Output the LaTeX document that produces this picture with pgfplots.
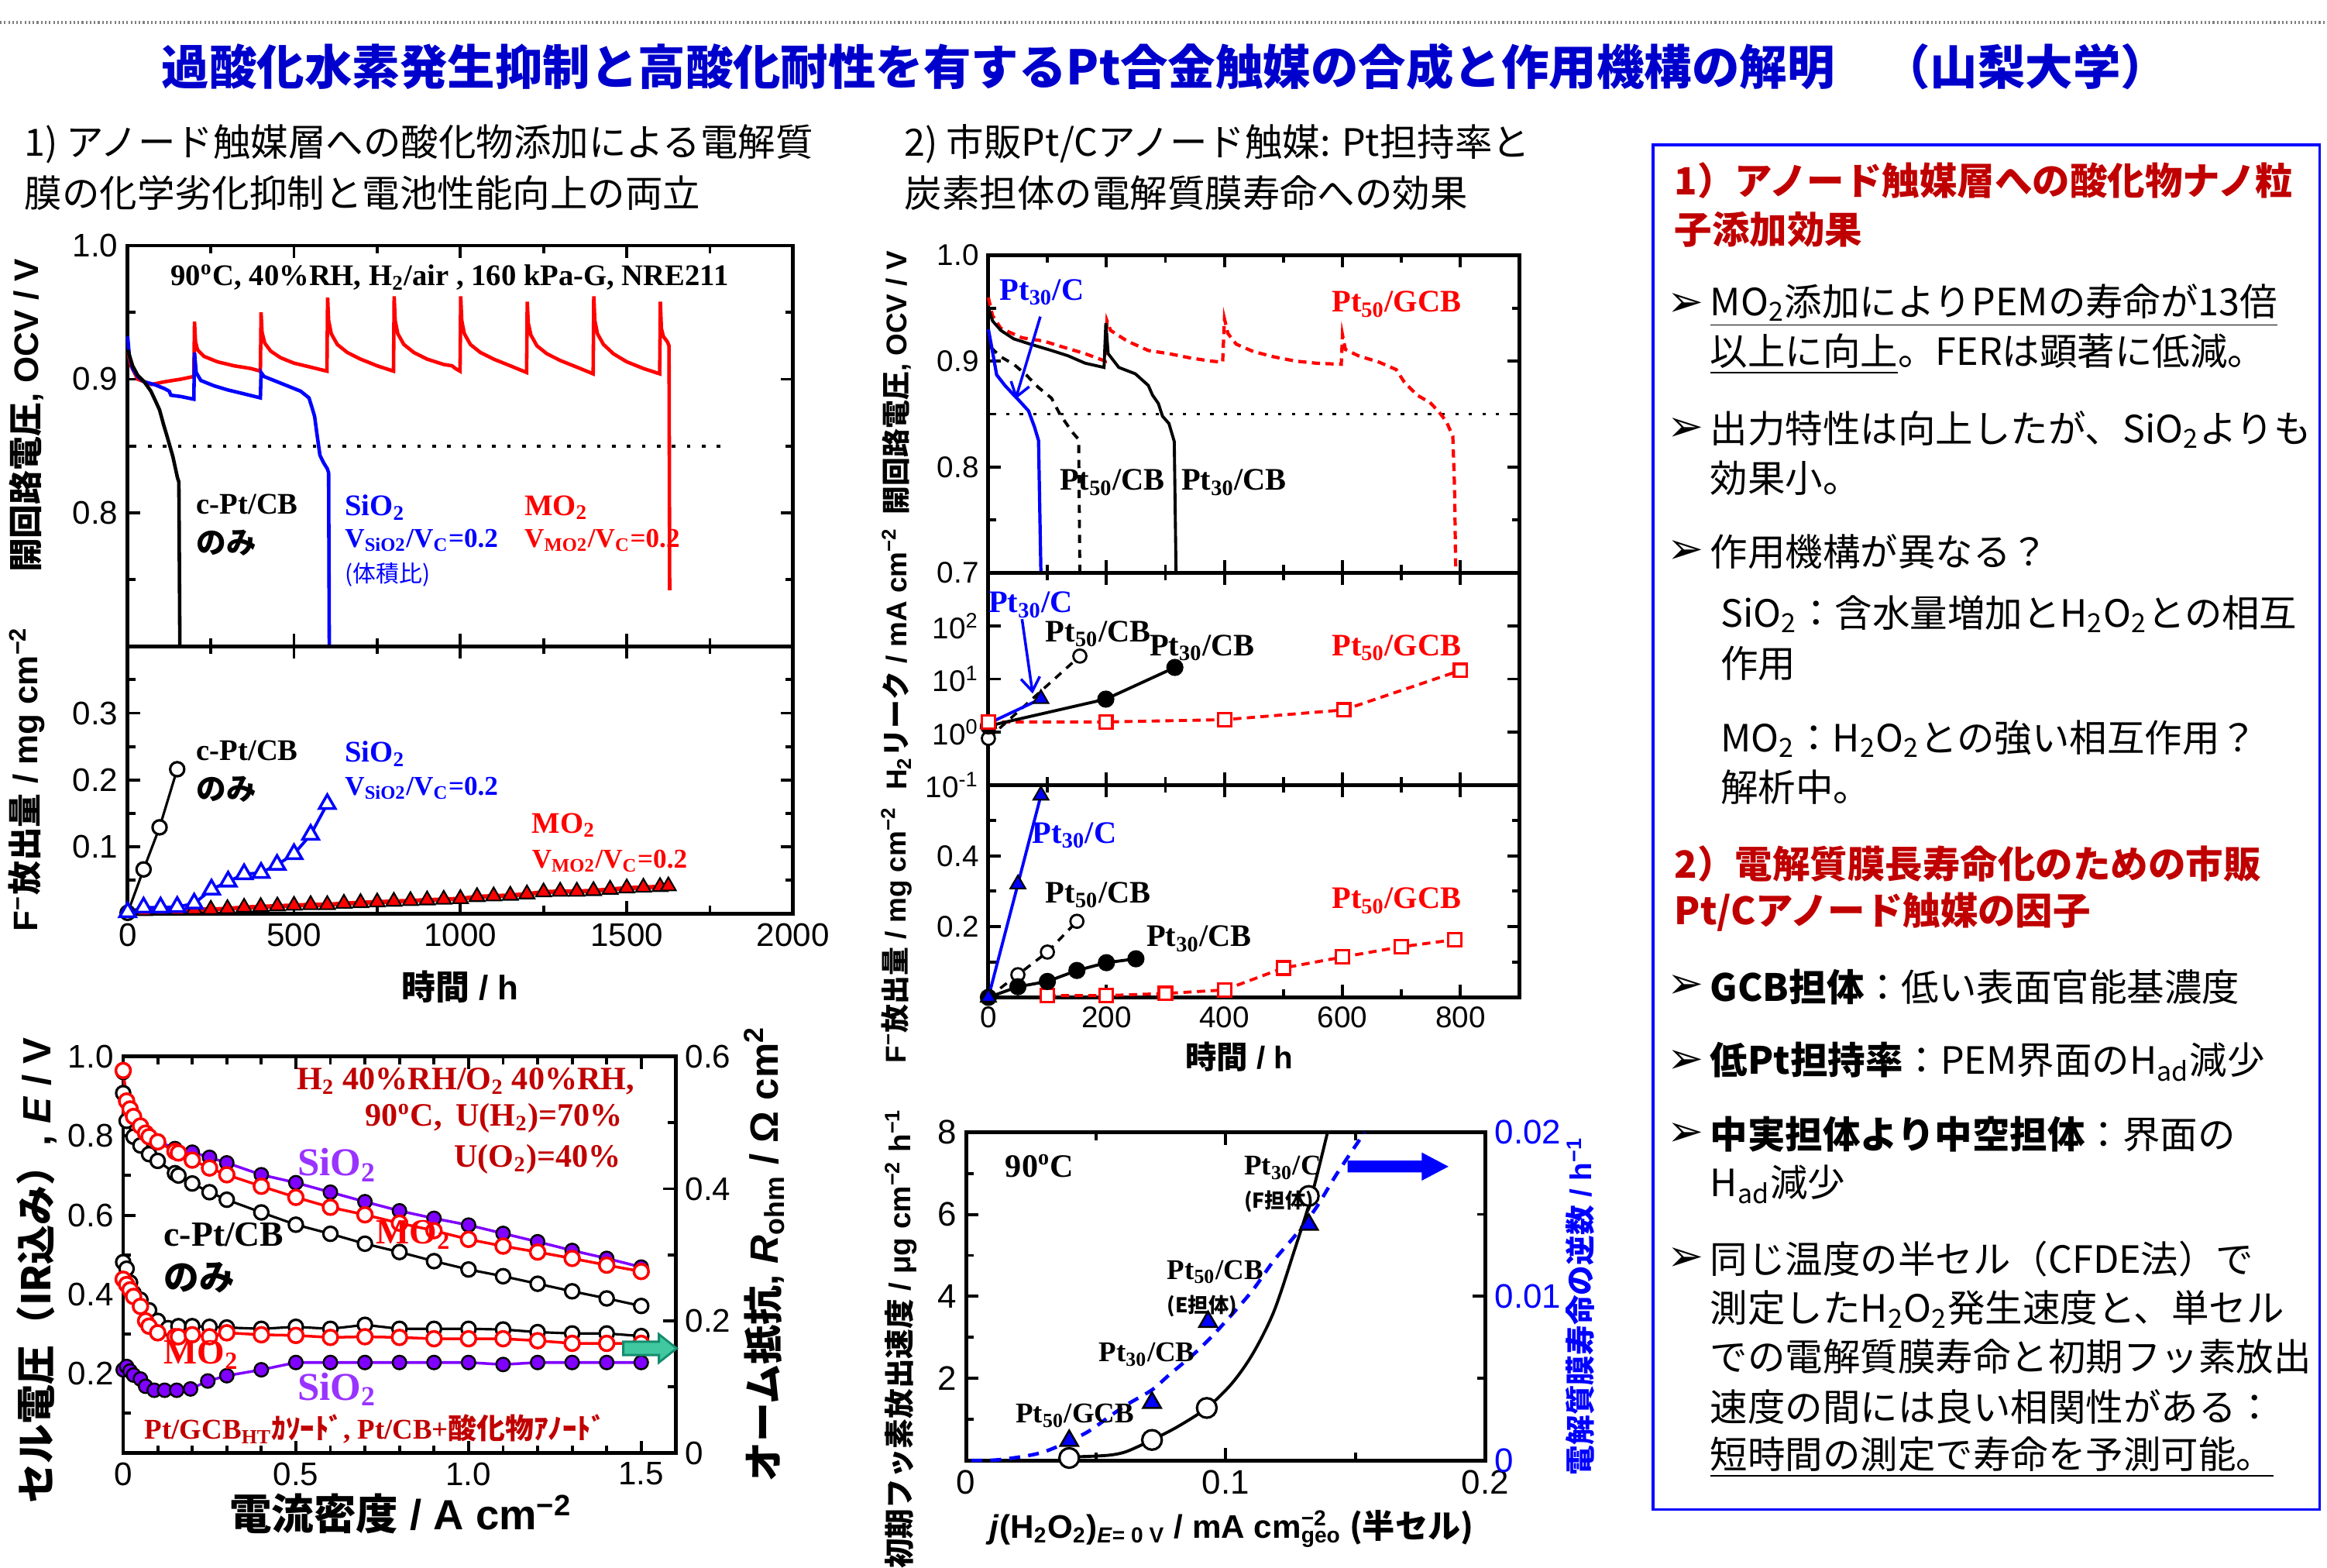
\documentclass[border=0pt]{standalone}
\usepackage{pgfplots}
\pgfplotsset{compat=1.18}
\usetikzlibrary{arrows.meta}
\usepackage{fontspec}
\setmainfont{Liberation Serif}
\newfontfamily\jp{Noto Sans CJK JP}
\newfontfamily\ar{Liberation Sans}
\newfontfamily\dv{DejaVu Sans}
\newcommand\fs[1]{\fontsize{#1}{#1}\selectfont}
\definecolor{tblue}{RGB}{0,0,204}
\definecolor{dred}{RGB}{192,0,0}
\definecolor{purp}{RGB}{128,0,255}
\definecolor{lpurp}{RGB}{153,51,255}
\definecolor{mint}{RGB}{64,200,160}
\definecolor{mintd}{RGB}{20,140,110}
\pgfplotsset{
  base/.style={scale only axis, anchor=south west, clip=false,
    axis line style={line width=1.4pt},
    tick align=inside, major tick length=0.16cm, minor tick length=0.1cm,
    tick style={line width=1.1pt, black},
    xtick pos=both, ytick pos=both, xticklabel pos=lower, yticklabel pos=left,
    scaled ticks=false},
}
\begin{document}
\begin{tikzpicture}[x=0.019158cm, y=0.019167cm]
\path[use as bounding box] (0,0) rectangle (1568,1056);
\coordinate (A1) at (86,620.5);
\coordinate (A2) at (86,440.5);
\coordinate (A3) at (83,77);
\coordinate (B1) at (666,670);
\coordinate (B2) at (666,527);
\coordinate (B3) at (666,384);
\coordinate (C1) at (651,72);

% ---------- header ----------
\draw[gray, line width=1.2pt, dash pattern=on 0.6pt off 0.9pt] (0,1041) -- (1568,1041);
\node[font=\jp\bfseries\fs{17.5}, text=tblue] at (785,1011) {過酸化水素発生抑制と高酸化耐性を有するPt合金触媒の合成と作用機構の解明　（山梨大学）};
\node[anchor=west, font=\jp\fs{13.8}] at (10,959) {1) アノード触媒層への酸化物添加による電解質};
\node[anchor=west, font=\jp\fs{13.8}] at (10,926) {膜の化学劣化抑制と電池性能向上の両立};
\node[anchor=west, font=\jp\fs{13.8}] at (603,959) {2) 市販Pt/Cアノード触媒: Pt担持率と};
\node[anchor=west, font=\jp\fs{13.8}] at (603,926) {炭素担体の電解質膜寿命への効果};

% ---------- Panel 1 top: OCV ----------
\begin{axis}[base, at={(A1)}, width=8.594cm, height=5.175cm,
  xmin=0, xmax=2000, ymin=0.7, ymax=1.0,
  xtick={0,500,1000,1500,2000}, xticklabels={}, minor xtick={250,750,1250,1750},
  ytick={0.8,0.9,1.0}, yticklabels={0.8,0.9,1.0}, minor ytick={0.75,0.85,0.95},
  tick label style={font=\ar\fs{12}}]
\addplot[black, line width=1.2pt, dash pattern=on 1.3pt off 4.2pt] coordinates {(16,0.85) (1804,0.85)};
\addplot[red, line width=1.3pt] coordinates {
(0,0.922)(10,0.910)(30,0.900)(72,0.896)(110,0.898)(160,0.900)(199,0.902)
(201,0.943)(204,0.928)(210,0.922)(230,0.917)(270,0.913)(320,0.910)(370,0.908)(399,0.906)
(401,0.950)(404,0.935)(412,0.927)(430,0.921)(460,0.916)(500,0.912)(550,0.909)(599,0.906)
(601,0.961)(604,0.944)(612,0.934)(630,0.926)(660,0.920)(700,0.915)(750,0.910)(799,0.906)
(801,0.962)(804,0.944)(812,0.934)(830,0.926)(860,0.920)(900,0.915)(950,0.911)(975,0.910)(985,0.908)(999,0.906)
(1001,0.962)(1004,0.944)(1012,0.934)(1030,0.926)(1060,0.920)(1100,0.915)(1150,0.910)(1199,0.905)
(1201,0.958)(1204,0.942)(1212,0.933)(1230,0.925)(1260,0.919)(1300,0.914)(1350,0.909)(1399,0.904)
(1401,0.962)(1404,0.944)(1412,0.934)(1430,0.926)(1460,0.919)(1500,0.913)(1550,0.908)(1599,0.904)
(1601,0.958)(1604,0.938)(1610,0.932)(1622,0.928)(1627,0.925)(1629,0.742)};
\addplot[blue, line width=1.3pt] coordinates {
(0,0.932)(5,0.918)(15,0.908)(30,0.902)(50,0.898)(80,0.896)(110,0.893)(125,0.891)(130,0.888)(160,0.887)(199,0.885)
(201,0.920)(206,0.905)(220,0.899)(260,0.895)(300,0.892)(350,0.889)(399,0.886)
(401,0.905)(410,0.902)(440,0.899)(480,0.895)(520,0.891)(545,0.886)(555,0.878)(562,0.872)(570,0.857)(578,0.843)(590,0.837)(600,0.833)(604,0.830)(606,0.700)};
\addplot[black, line width=1.3pt] coordinates {
(0,0.922)(15,0.910)(30,0.903)(50,0.898)(70,0.891)(85,0.883)(96,0.877)(108,0.866)(120,0.856)(136,0.842)(150,0.826)(154,0.823)(157,0.700)};
\end{axis}

% ---------- Panel 1 bottom: F- ----------
\begin{axis}[base, at={(A2)}, width=8.594cm, height=3.450cm,
  xmin=0, xmax=2000, ymin=0, ymax=0.4,
  xtick={0,500,1000,1500,2000}, xticklabels={0,500,1000,1500,2000}, minor xtick={250,750,1250,1750},
  ytick={0.1,0.2,0.3}, yticklabels={0.1,0.2,0.3}, minor ytick={0.05,0.15,0.25,0.35},
  tick label style={font=\ar\fs{12}}]
\addplot[red, line width=1.6pt, mark=triangle*, mark size=3.2pt, mark options={fill=red, draw=black, line width=0.6pt}] coordinates {
(50,0.004)(100,0.005)(150,0.005)(200,0.006)(250,0.006)(300,0.007)(350,0.009)(400,0.010)(450,0.011)(500,0.012)
(550,0.013)(600,0.013)(650,0.015)(700,0.016)(750,0.017)(800,0.018)(850,0.019)(900,0.020)(950,0.021)(1000,0.022)
(1050,0.025)(1100,0.026)(1150,0.027)(1200,0.029)(1250,0.032)(1300,0.033)(1350,0.033)(1400,0.034)(1450,0.036)
(1500,0.038)(1550,0.039)(1600,0.040)(1625,0.041)};
\addplot[black, line width=0.9pt, mark=*, mark size=2.6pt, mark options={fill=white, draw=black, line width=0.9pt}] coordinates {
(0,0.001)(48,0.066)(96,0.129)(149,0.216)};
\addplot[blue, line width=1.1pt, mark=triangle*, mark size=3.4pt, mark options={fill=white, draw=blue, line width=1pt}] coordinates {
(0,0.002)(48,0.009)(99,0.009)(149,0.010)(200,0.015)(252,0.036)(302,0.048)(350,0.059)(401,0.061)(449,0.073)(500,0.089)(550,0.118)(600,0.164)};
\end{axis}

% ---------- Panel 1 labels ----------
\node[rotate=90, font=\bfseries\fs{12.5}] at (18,776) {{\jp 開回路電圧}{\ar , OCV / V}};
\node[rotate=90, font=\bfseries\fs{12.5}] at (18,531) {{\ar F\textsuperscript{−}}{\jp 放出量}{\ar\ / mg cm\textsuperscript{−2}}};
\node[font=\bfseries\fs{12.5}] at (310,391) {{\jp 時間}{\ar\ / h}};
\node[font=\bfseries\fs{11}] at (303,869) {90\textsuperscript{o}C, 40\%RH, H\textsubscript{2}/air , 160 kPa-G, NRE211};
\node[anchor=west, font=\bfseries\fs{11}] at (126,716) {c-Pt/CB};
\node[anchor=west, font=\jp\bfseries\fs{11}] at (126,690) {のみ};
\node[anchor=west, font=\bfseries\fs{11}, text=blue] at (226,714) {SiO\textsubscript{2}};
\node[anchor=west, font=\bfseries\fs{10}, text=blue] at (226,692) {V\textsubscript{SiO2}/V\textsubscript{C}=0.2};
\node[anchor=west, font=\jp\fs{8.5}, text=blue] at (226,669) {(体積比)};
\node[anchor=west, font=\bfseries\fs{11}, text=red] at (347,714) {MO\textsubscript{2}};
\node[anchor=west, font=\bfseries\fs{10}, text=red] at (347,692) {V\textsubscript{MO2}/V\textsubscript{C}=0.2};
\node[anchor=west, font=\bfseries\fs{11}] at (126,550) {c-Pt/CB};
\node[anchor=west, font=\jp\bfseries\fs{11}] at (126,524) {のみ};
\node[anchor=west, font=\bfseries\fs{11}, text=blue] at (226,548) {SiO\textsubscript{2}};
\node[anchor=west, font=\bfseries\fs{10}, text=blue] at (226,525) {V\textsubscript{SiO2}/V\textsubscript{C}=0.2};
\node[anchor=west, font=\bfseries\fs{11}, text=red] at (352,500) {MO\textsubscript{2}};
\node[anchor=west, font=\bfseries\fs{10}, text=red] at (352,476) {V\textsubscript{MO2}/V\textsubscript{C}=0.2};

% ---------- Panel 3: polarization ----------
\begin{axis}[base, at={(A3)}, width=7.136cm, height=5.118cm,
  xmin=0, xmax=1.6, ymin=0, ymax=1.0, ytick pos=left,
  xtick={0,0.5,1.0,1.5}, xticklabels={0,0.5,1.0,1.5}, minor xtick={0.1,0.2,0.3,0.4,0.6,0.7,0.8,0.9,1.1,1.2,1.3,1.4},
  ytick={0.2,0.4,0.6,0.8,1.0}, yticklabels={0.2,0.4,0.6,0.8,1.0}, minor ytick={0.1,0.3,0.5,0.7,0.9},
  tick label style={font=\ar\fs{12}}]
\addplot[purp, line width=1pt, mark=*, mark size=2.5pt, mark options={fill=purp, draw=black, line width=0.7pt}] coordinates {
(0,0.960)(0.01,0.888)(0.03,0.850)(0.05,0.826)(0.075,0.800)(0.1,0.787)(0.15,0.768)(0.2,0.759)(0.25,0.746)(0.3,0.732)
(0.4,0.702)(0.5,0.682)(0.6,0.658)(0.7,0.634)(0.8,0.611)(0.9,0.592)(1.0,0.575)(1.1,0.554)(1.2,0.533)(1.3,0.511)(1.4,0.491)(1.5,0.469)};
\addplot[black, line width=0.9pt, mark=*, mark size=2.6pt, mark options={fill=white, draw=black, line width=0.9pt}] coordinates {
(0,0.908)(0.01,0.838)(0.03,0.798)(0.05,0.776)(0.075,0.754)(0.1,0.737)(0.15,0.706)(0.16,0.700)(0.2,0.680)(0.25,0.658)(0.3,0.639)
(0.4,0.607)(0.5,0.576)(0.6,0.553)(0.7,0.528)(0.8,0.507)(0.9,0.484)(1.0,0.463)(1.1,0.446)(1.2,0.427)(1.3,0.408)(1.4,0.390)(1.5,0.371)};
\addplot[red, line width=1pt, mark=*, mark size=2.7pt, mark options={fill=white, draw=red, line width=1pt}] coordinates {
(0,0.965)(0.01,0.888)(0.02,0.868)(0.03,0.849)(0.05,0.825)(0.065,0.807)(0.075,0.798)(0.1,0.785)(0.15,0.761)(0.16,0.757)(0.2,0.739)(0.25,0.719)(0.3,0.702)
(0.4,0.673)(0.5,0.645)(0.6,0.620)(0.7,0.601)(0.8,0.580)(0.9,0.561)(1.0,0.539)(1.1,0.522)(1.2,0.507)(1.3,0.491)(1.4,0.474)(1.5,0.458)};
\end{axis}
\begin{axis}[base, at={(A3)}, width=7.136cm, height=5.118cm,
  xmin=0, xmax=1.6, ymin=0, ymax=0.6, axis x line=none, axis y line*=right,
  ytick pos=right, yticklabel pos=right,
  ytick={0,0.2,0.4,0.6}, yticklabels={0,0.2,0.4,0.6}, minor ytick={0.1,0.3,0.5},
  tick label style={font=\ar\fs{12}}]
\addplot[purp, line width=1pt, mark=*, mark size=2.5pt, mark options={fill=purp, draw=black, line width=0.7pt}] coordinates {
(0,0.126)(0.01,0.131)(0.02,0.124)(0.03,0.118)(0.05,0.112)(0.065,0.101)(0.09,0.095)(0.12,0.095)(0.155,0.095)(0.195,0.097)(0.245,0.109)(0.3,0.117)
(0.4,0.126)(0.5,0.137)(0.6,0.137)(0.7,0.137)(0.8,0.137)(0.9,0.137)(1.0,0.137)(1.1,0.134)(1.2,0.137)(1.3,0.137)(1.4,0.137)(1.5,0.137)};
\addplot[black, line width=0.9pt, mark=*, mark size=2.6pt, mark options={fill=white, draw=black, line width=0.9pt}] coordinates {
(0,0.289)(0.01,0.279)(0.02,0.258)(0.03,0.242)(0.05,0.232)(0.075,0.216)(0.1,0.200)(0.13,0.189)(0.16,0.192)(0.2,0.192)(0.25,0.191)(0.3,0.190)
(0.4,0.188)(0.5,0.191)(0.6,0.188)(0.7,0.194)(0.8,0.188)(0.9,0.188)(1.0,0.188)(1.1,0.187)(1.2,0.183)(1.3,0.181)(1.4,0.181)(1.5,0.177)};
\addplot[red, line width=1pt, mark=*, mark size=2.7pt, mark options={fill=white, draw=red, line width=1pt}] coordinates {
(0,0.263)(0.01,0.255)(0.02,0.247)(0.03,0.237)(0.05,0.222)(0.065,0.200)(0.075,0.192)(0.1,0.182)(0.15,0.176)(0.16,0.176)(0.2,0.179)(0.25,0.176)(0.3,0.182)
(0.4,0.179)(0.5,0.178)(0.6,0.175)(0.7,0.176)(0.8,0.175)(0.9,0.173)(1.0,0.173)(1.1,0.173)(1.2,0.170)(1.3,0.166)(1.4,0.166)(1.5,0.166)};
\end{axis}
% Panel 3 labels
\draw[fill=mint, draw=mintd, line width=0.8pt] (420,152)--(444,152)--(444,157)--(456,147.5)--(444,138)--(444,143)--(420,143)--cycle;
\node[rotate=90, font=\bfseries\fs{14.5}] at (25,200) {{\jp セル電圧（IR込み）}{\ar , \textit{E} / V}};
\node[rotate=90, font=\bfseries\fs{14.5}] at (515,211) {{\jp オーム抵抗}{\ar , \textit{R}\textsubscript{ohm} / Ω cm\textsuperscript{2}}};
\node[font=\bfseries\fs{15.5}] at (270,36) {{\jp 電流密度}{\ar\ / A cm\textsuperscript{−2}}};
\node[anchor=east, font=\bfseries\fs{12}, text=dred] at (434,327.5) {H\textsubscript{2} 40\%RH/O\textsubscript{2} 40\%RH,};
\node[anchor=east, font=\bfseries\fs{12}, text=dred] at (426,302.6) {90\textsuperscript{o}C,\, U(H\textsubscript{2})=70\%};
\node[anchor=east, font=\bfseries\fs{12}, text=dred] at (425,275) {U(O\textsubscript{2})=40\%};
\node[anchor=west, font=\bfseries\fs{14.5}, text=lpurp] at (194,271) {SiO\textsubscript{2}};
\node[anchor=west, font=\bfseries\fs{13}] at (104,224) {c-Pt/CB};
\node[anchor=west, font=\jp\bfseries\fs{13}] at (104,195) {のみ};
\node[anchor=west, font=\bfseries\fs{13}, text=red] at (247,224) {MO\textsubscript{2}};
\node[anchor=west, font=\bfseries\fs{13}, text=red] at (104,143) {MO\textsubscript{2}};
\node[anchor=west, font=\bfseries\fs{14.5}, text=lpurp] at (194,120) {SiO\textsubscript{2}};
\node[anchor=west, font=\bfseries\fs{10.5}, text=dred] at (91,93) {Pt/GCB\textsubscript{HT}{\jp ｶｿｰﾄﾞ}, Pt/CB+{\jp 酸化物ｱﾉｰﾄﾞ}};

% ---------- Panel 2 top ----------
\begin{axis}[base, at={(B1)}, width=6.859cm, height=4.102cm,
  xmin=0, xmax=900, ymin=0.7, ymax=1.0,
  xtick={0,200,400,600,800}, xticklabels={}, minor xtick={100,300,500,700},
  ytick={0.7,0.8,0.9,1.0}, yticklabels={0.7,0.8,0.9,1.0}, minor ytick={0.75,0.85,0.95},
  tick label style={font=\ar\fs{11}}]
\addplot[black, line width=1.1pt, dash pattern=on 1.2pt off 3.8pt] coordinates {(7,0.85)(900,0.85)};
\addplot[red, line width=1.2pt, dash pattern=on 3pt off 2pt] coordinates {
(0,0.960)(7,0.943)(21,0.931)(57,0.922)(93,0.919)(128,0.913)(164,0.907)(198,0.900)(201,0.938)(207,0.929)(235,0.919)(271,0.910)
(306,0.907)(342,0.903)(377,0.900)(397,0.899)(400,0.940)(406,0.926)(420,0.916)(449,0.909)(484,0.904)(520,0.900)(556,0.898)(598,0.897)
(600,0.925)(605,0.911)(627,0.905)(662,0.899)(691,0.892)(705,0.880)(726,0.868)(748,0.861)(762,0.853)(776,0.843)(787,0.829)(790,0.780)(792,0.700)};
\addplot[black, line width=1.1pt] coordinates {
(0,0.950)(7,0.938)(21,0.929)(43,0.921)(71,0.916)(107,0.910)(135,0.905)(164,0.898)(196,0.894)(199,0.936)(203,0.907)(221,0.894)
(249,0.888)(271,0.877)(278,0.868)(288,0.860)(295,0.848)(306,0.841)(315,0.824)(318,0.700)};
\addplot[black, line width=1.1pt, dash pattern=on 3pt off 2.5pt] coordinates {
(4,0.913)(21,0.904)(43,0.897)(64,0.887)(85,0.875)(107,0.865)(121,0.850)(142,0.833)(153,0.826)(155,0.700)};
\addplot[blue, line width=1.2pt] coordinates {
(0,0.930)(7,0.909)(14,0.887)(28,0.877)(43,0.868)(50,0.864)(68,0.853)(78,0.838)(85,0.825)(89,0.700)};
\draw[blue, line width=1pt, -{Straight Barb[length=5pt, width=7pt]}] (axis cs:88,0.942) -- (axis cs:46,0.864);
\end{axis}

% ---------- Panel 2 middle (log) ----------
\begin{axis}[base, at={(B2)}, width=6.859cm, height=2.741cm,
  xmin=0, xmax=900, ymode=log, ymin=0.1, ymax=1000,
  xtick={0,200,400,600,800}, xticklabels={}, minor xtick={100,300,500,700},
  ytick={0.1,1,10,100}, yticklabels={10\textsuperscript{-1},10\textsuperscript{0},10\textsuperscript{1},10\textsuperscript{2}}, yminorticks=false,
  tick label style={font=\ar\fs{11}}]
\addplot[red, line width=1.1pt, dash pattern=on 3pt off 2pt, mark=square*, mark size=2.4pt, mark options={solid, fill=white, draw=red, line width=0.9pt}] coordinates {
(0,1.55)(199,1.55)(400,1.71)(602,2.61)(800,14.5)};
\addplot[black, line width=1pt, dash pattern=on 3pt off 2.5pt, mark=*, mark size=2.4pt, mark options={solid, fill=white, draw=black, line width=0.8pt}] coordinates {
(0,0.76)(155,27)};
\addplot[black, line width=1.1pt, mark=*, mark size=2.6pt, mark options={fill=black}] coordinates {
(0,1.3)(199,4.17)(316,16.5)};
\addplot[blue, line width=1.1pt, mark=triangle*, mark size=3.2pt, mark options={fill=blue, draw=black, line width=0.6pt}] coordinates {
(0,1.45)(89,4.23)};
\addplot[red, only marks, mark=square*, mark size=2.4pt, mark options={fill=white, draw=red, line width=0.9pt}] coordinates {(0,1.55)};
\draw[blue, line width=1pt, -{Straight Barb[length=5pt, width=7pt]}] (axis cs:57,134) -- (axis cs:75,5.3);
\end{axis}

% ---------- Panel 2 bottom ----------
\begin{axis}[base, at={(B3)}, width=6.859cm, height=2.741cm,
  xmin=0, xmax=900, ymin=0, ymax=0.6,
  xtick={0,200,400,600,800}, xticklabels={0,200,400,600,800}, minor xtick={100,300,500,700},
  ytick={0.2,0.4}, yticklabels={0.2,0.4}, minor ytick={0.1,0.3,0.5},
  tick label style={font=\ar\fs{11}}]
\addplot[red, line width=1.1pt, dash pattern=on 3pt off 2pt, mark=square*, mark size=2.4pt, mark options={solid, fill=white, draw=red, line width=0.9pt}] coordinates {
(100,0.005)(200,0.005)(300,0.011)(400,0.021)(500,0.083)(600,0.114)(700,0.143)(790,0.163)};
\addplot[black, line width=1pt, dash pattern=on 3pt off 2.5pt, mark=*, mark size=2.4pt, mark options={solid, fill=white, draw=black, line width=0.8pt}] coordinates {
(0,0)(50,0.064)(100,0.128)(150,0.215)};
\addplot[black, line width=1.1pt, mark=*, mark size=2.6pt, mark options={fill=black}] coordinates {
(0,0)(50,0.030)(100,0.045)(150,0.076)(200,0.098)(250,0.109)};
\addplot[blue, line width=1.1pt, mark=triangle*, mark size=3.2pt, mark options={fill=blue, draw=black, line width=0.6pt}] coordinates {
(0,0)(50,0.320)(89,0.571)};
\end{axis}

% Panel 2 labels
\node[rotate=90, font=\bfseries\fs{10.5}] at (604,798) {{\jp 開回路電圧}{\ar , OCV / V}};
\node[rotate=90, font=\bfseries\fs{10.5}] at (604,612) {{\ar H\textsubscript{2}}{\jp リーク}{\ar\ / mA cm\textsuperscript{−2}}};
\node[rotate=90, font=\bfseries\fs{10.5}] at (604,426) {{\ar F\textsuperscript{−}}{\jp 放出量}{\ar\ / mg cm\textsuperscript{−2}}};
\node[font=\bfseries\fs{11.5}] at (835,344) {{\jp 時間}{\ar\ / h}};
\node[font=\bfseries\fs{11.5}, text=blue] at (702,859) {Pt\textsubscript{30}/C};
\node[font=\bfseries\fs{11.5}, text=red] at (941,851) {Pt\textsubscript{50}/GCB};
\node[font=\bfseries\fs{11.5}] at (749.5,731) {Pt\textsubscript{50}/CB};
\node[font=\bfseries\fs{11.5}] at (831.5,731) {Pt\textsubscript{30}/CB};
\node[font=\bfseries\fs{11.5}, text=blue] at (694.5,648.4) {Pt\textsubscript{30}/C};
\node[font=\bfseries\fs{11.5}] at (740,629) {Pt\textsubscript{50}/CB};
\node[font=\bfseries\fs{11.5}] at (810,619.5) {Pt\textsubscript{30}/CB};
\node[font=\bfseries\fs{11.5}, text=red] at (941,619.5) {Pt\textsubscript{50}/GCB};
\node[font=\bfseries\fs{11.5}, text=blue] at (724,493) {Pt\textsubscript{30}/C};
\node[font=\bfseries\fs{11.5}] at (740,453) {Pt\textsubscript{50}/CB};
\node[font=\bfseries\fs{11.5}] at (808,423.4) {Pt\textsubscript{30}/CB};
\node[font=\bfseries\fs{11.5}, text=red] at (941,449) {Pt\textsubscript{50}/GCB};

% ---------- Panel 4 ----------
\begin{axis}[base, at={(C1)}, width=6.705cm, height=4.236cm,
  xmin=0, xmax=0.2, ymin=0, ymax=8, ytick pos=left,
  xtick={0,0.1,0.2}, xticklabels={0,0.1,0.2}, minor xtick={0.05,0.15},
  ytick={2,4,6,8}, yticklabels={2,4,6,8}, minor ytick={1,3,5,7},
  tick label style={font=\ar\fs{12.5}}]
\addplot[black, line width=1.1pt, smooth] coordinates {
(0.0397,0.095)(0.0457,0.095)(0.0554,0.13)(0.0619,0.22)(0.0716,0.50)(0.0814,0.82)(0.0927,1.28)(0.1024,1.88)(0.1105,2.61)(0.1186,3.64)(0.1267,5.17)(0.1332,6.48)(0.1392,8.0)};
\addplot[black, only marks, mark=*, mark size=3.6pt, mark options={fill=white, draw=black, line width=0.9pt}] coordinates {
(0.0397,0.06)(0.0716,0.50)(0.0927,1.28)(0.1320,6.45)};
\end{axis}
\begin{axis}[base, at={(C1)}, width=6.705cm, height=4.236cm,
  xmin=0, xmax=0.2, ymin=0, ymax=0.02, axis x line=none, axis y line*=right,
  ytick pos=right, yticklabel pos=right,
  ytick={0,0.01,0.02}, yticklabels={0,0.01,0.02}, minor ytick={0.005,0.015},
  tick label style={font=\ar\fs{12.5}, text=blue}]
\addplot[blue, line width=1.3pt, dash pattern=on 4pt off 3pt, smooth] coordinates {
(0.002,0)(0.0131,0.00005)(0.0295,0.0005)(0.0457,0.00164)(0.0554,0.0027)(0.0619,0.0034)(0.0716,0.0043)(0.0781,0.0052)(0.0878,0.0065)
(0.0943,0.0075)(0.1024,0.0089)(0.1105,0.0104)(0.1186,0.0122)(0.1267,0.0137)(0.1348,0.0154)(0.1429,0.0175)(0.1535,0.0200)};
\addplot[blue, only marks, mark=triangle*, mark size=3.8pt, mark options={fill=blue, draw=black, line width=0.7pt}] coordinates {
(0.0397,0.00120)(0.0716,0.00352)(0.0932,0.00845)(0.1320,0.01438)};
\end{axis}
% Panel 4 labels
\fill[blue] (908,274)--(958,274)--(958,279.5)--(976,270)--(958,260.5)--(958,266)--(908,266)--cycle;
\node[rotate=90, font=\bfseries\fs{11}] at (607,154) {{\jp 初期フッ素放出速度}{\ar\ / μg cm\textsuperscript{−2} h\textsuperscript{−1}}};
\node[rotate=90, font=\bfseries\fs{11}, text=blue] at (1065,176) {{\jp 電解質膜寿命の逆数}{\ar\ / h\textsuperscript{−1}}};
\node[font=\bfseries\fs{12}] at (830,26) {{\ar\textit{j}(H\textsubscript{2}O\textsubscript{2})\textsubscript{\textit{E}= 0 V} / mA cm\rlap{\textsuperscript{−2}}\textsubscript{geo}} {\jp (半セル)}};
\node[anchor=west, font=\bfseries\fs{12}] at (671,270.4) {90\textsuperscript{o}C};
\node[anchor=west, font=\bfseries\fs{10.5}] at (832,269) {Pt\textsubscript{30}/C};
\node[anchor=west, font=\jp\bfseries\fs{7.5}] at (832,246.5) {(F担体)};
\node[anchor=west, font=\bfseries\fs{10.5}] at (780,199) {Pt\textsubscript{50}/CB};
\node[anchor=west, font=\jp\bfseries\fs{7.5}] at (780,176) {(E担体)};
\node[anchor=west, font=\bfseries\fs{10.5}] at (734,143.3) {Pt\textsubscript{30}/CB};
\node[anchor=west, font=\bfseries\fs{10.5}] at (678,102) {Pt\textsubscript{50}/GCB};

% ---------- Right text box ----------
\draw[blue, line width=1pt] (1114,958.4) rectangle (1563,39);
\node[anchor=west, font=\jp\bfseries\fs{13.8}, text=dred] at (1122,934.3) {1）アノード触媒層への酸化物ナノ粒};
\node[anchor=west, font=\jp\bfseries\fs{13.8}, text=dred] at (1122,901.3) {子添加効果};
\foreach \yy in {850.4,766.5,684.1,391.2,340.6,291.6,207.6}
  \node[anchor=west, font=\dv\fs{16}, inner sep=0pt] at (1123,\yy) {➢};
\node[anchor=west, font=\jp\fs{13.8}] at (1146,850.4) {\underline{MO\textsubscript{2}添加によりPEMの寿命が13倍}};
\node[anchor=west, font=\jp\fs{13.8}] at (1146,817.4) {\underline{以上に向上}。FERは顕著に低減。};
\node[anchor=west, font=\jp\fs{13.8}] at (1146,766.5) {出力特性は向上したが、SiO\textsubscript{2}よりも};
\node[anchor=west, font=\jp\fs{13.8}] at (1146,734) {効果小。};
\node[anchor=west, font=\jp\fs{13.8}] at (1146,684.1) {作用機構が異なる？};
\node[anchor=west, font=\jp\fs{13.8}] at (1153,642.2) {SiO\textsubscript{2}：含水量増加とH\textsubscript{2}O\textsubscript{2}との相互};
\node[anchor=west, font=\jp\fs{13.8}] at (1153,609.2) {作用};
\node[anchor=west, font=\jp\fs{13.8}] at (1153,558.3) {MO\textsubscript{2}：H\textsubscript{2}O\textsubscript{2}との強い相互作用？};
\node[anchor=west, font=\jp\fs{13.8}] at (1153,525.4) {解析中。};
\node[anchor=west, font=\jp\bfseries\fs{13.8}, text=dred] at (1122,473.7) {2）電解質膜長寿命化のための市販};
\node[anchor=west, font=\jp\bfseries\fs{13.8}, text=dred] at (1122,441.7) {Pt/Cアノード触媒の因子};
\node[anchor=west, font=\jp\fs{13.8}] at (1146,391.2) {\textbf{GCB担体}：低い表面官能基濃度};
\node[anchor=west, font=\jp\fs{13.8}] at (1146,340.6) {\textbf{低Pt担持率}：PEM界面のH\textsubscript{ad}減少};
\node[anchor=west, font=\jp\fs{13.8}] at (1146,291.6) {\textbf{中実担体より中空担体}：界面の};
\node[anchor=west, font=\jp\fs{13.8}] at (1146,258) {H\textsubscript{ad}減少};
\node[anchor=west, font=\jp\fs{13.8}] at (1146,207.6) {同じ温度の半セル（CFDE法）で};
\node[anchor=west, font=\jp\fs{13.8}] at (1146,173.7) {測定したH\textsubscript{2}O\textsubscript{2}発生速度と、単セル};
\node[anchor=west, font=\jp\fs{13.8}] at (1146,141.7) {での電解質膜寿命と初期フッ素放出};
\node[anchor=west, font=\jp\fs{13.8}] at (1146,108) {速度の間には良い相関性がある：};
\node[anchor=west, font=\jp\fs{13.8}] at (1146,74.1) {\underline{短時間の測定で寿命を予測可能。}};
\end{tikzpicture}
\end{document}
